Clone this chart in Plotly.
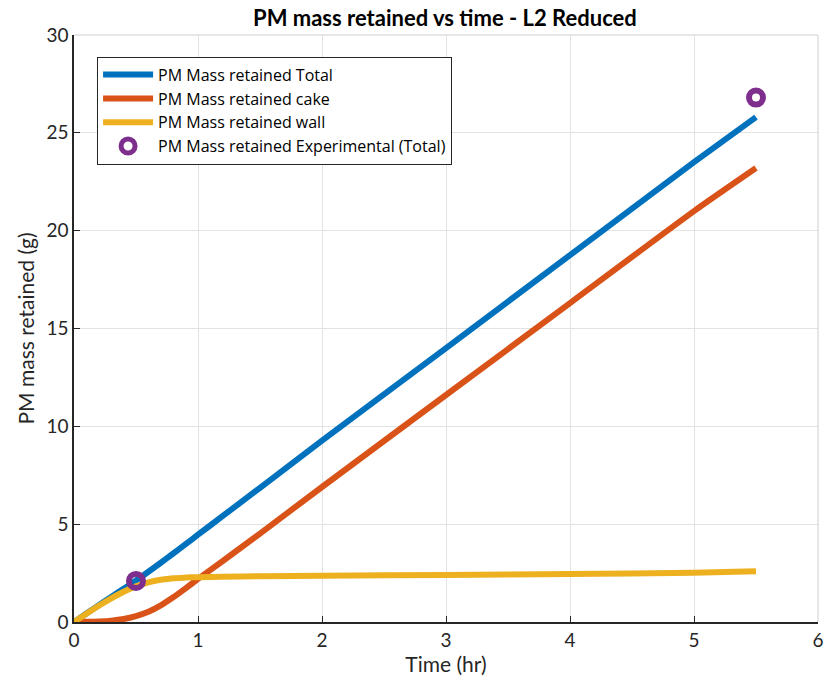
import plotly.graph_objects as go

# Model output
time_hr = [0, 0.1, 0.2, 0.3, 0.4, 0.5, 0.6, 0.7, 0.8, 0.9, 1.0, 1.2, 1.5, 2, 3, 4, 5, 5.5]
mass_total = [0, 0.43, 0.86, 1.28, 1.7, 2.12, 2.57, 3.03, 3.5, 3.98, 4.46, 5.42, 6.86,
              9.27, 14.0, 18.75, 23.5, 25.8]
mass_cake = [0, 0.01, 0.03, 0.07, 0.15, 0.3, 0.52, 0.85, 1.26, 1.72, 2.2, 3.12, 4.52,
             6.9, 11.6, 16.3, 21.0, 23.2]
mass_wall = [0, 0.42, 0.83, 1.21, 1.55, 1.82, 2.03, 2.16, 2.24, 2.27, 2.29, 2.31, 2.34,
             2.37, 2.4, 2.45, 2.52, 2.6]

# Experimental points
exp_time = [0.5, 5.5]
exp_total = [2.1, 26.8]

FONT = "Lato, 'Open Sans', sans-serif"
INK = "#262626"

fig = go.Figure()
fig.add_trace(go.Scatter(x=time_hr, y=mass_total, mode="lines", name="PM Mass retained Total",
                         line=dict(color="#0072BD", width=6, shape="spline", smoothing=0.6)))
fig.add_trace(go.Scatter(x=time_hr, y=mass_cake, mode="lines", name="PM Mass retained cake",
                         line=dict(color="#D95319", width=6, shape="spline", smoothing=0.6)))
fig.add_trace(go.Scatter(x=time_hr, y=mass_wall, mode="lines", name="PM Mass retained wall",
                         line=dict(color="#EDB120", width=6, shape="spline", smoothing=0.6)))
fig.add_trace(go.Scatter(x=exp_time, y=exp_total, mode="markers",
                         name="PM Mass retained Experimental (Total)",
                         marker=dict(symbol="circle-open", size=14, color="#7E2F8E",
                                     line=dict(width=6, color="#7E2F8E"))))

axis_style = dict(
    showgrid=True, gridcolor="#e3e3e3", gridwidth=1,
    showline=True, linecolor=INK, linewidth=1.5,
    ticks="inside", ticklen=6, tickcolor=INK,
    zeroline=False, automargin=False,
    tickfont=dict(size=19, color=INK, family=FONT),
)

fig.update_xaxes(range=[0, 6], dtick=1,
                 title=dict(text="Time (hr)", font=dict(size=21, color=INK, family=FONT), standoff=4),
                 **axis_style)
fig.update_yaxes(range=[0, 30], dtick=5,
                 title=dict(text="PM mass retained (g)", font=dict(size=21, color=INK, family=FONT), standoff=6),
                 **axis_style)

fig.update_layout(
    width=827, height=688,
    margin=dict(l=74, r=9, t=35, b=66),
    paper_bgcolor="white", plot_bgcolor="white",
    title=dict(text="<b>PM mass retained vs time - L2 Reduced</b>", x=0.538, xanchor="center",
               y=0.974, yanchor="middle", font=dict(size=22, color="#000000", family=FONT)),
    font=dict(family=FONT, color=INK),
    legend=dict(x=0.031, y=0.963, xanchor="left", yanchor="top",
                bgcolor="white", bordercolor=INK, borderwidth=1,
                font=dict(size=16, color="#000000", family="'Open Sans', Lato, sans-serif"),
                itemwidth=50, tracegroupgap=0),
    showlegend=True,
)

# light box on top/right like the MATLAB axes
fig.add_shape(type="line", xref="paper", yref="paper", x0=0, x1=1, y0=1, y1=1,
              line=dict(color="#d0d0d0", width=1))
fig.add_shape(type="line", xref="paper", yref="paper", x0=1, x1=1, y0=0, y1=1,
              line=dict(color="#d0d0d0", width=1))

# drop the default page margin so the figure sits at the window's corner
fig.write_html("out.html", config={"displayModeBar": False},
               post_script="document.body.style.margin='0';")
